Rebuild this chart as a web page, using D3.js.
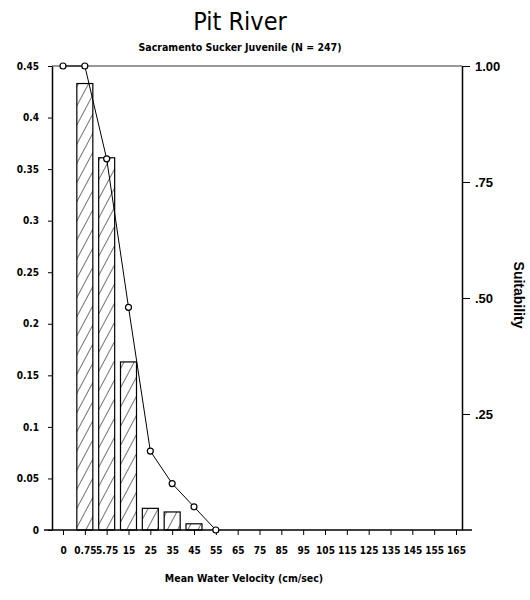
<!DOCTYPE html>
<html>
<head>
<meta charset="utf-8">
<script src="https://cdn.jsdelivr.net/npm/d3@7"></script>
<style>
  body { margin: 0; background: #fff; }
  svg { display: block; }
</style>
</head>
<body>
<svg id="chart" width="530" height="600"></svg>
<script>
// ---- data ----
const categories = ["0","0.75","5.75","15","25","35","45","55","65","75","85","95","105","115","125","135","145","155","165"];
const freqCats = ["0.75","5.75","15","25","35","45"];
const freqValues = [0.433, 0.361, 0.163, 0.021, 0.0175, 0.006];
const suitCats = ["0","0.75","5.75","15","25","35","45","55"];
const suitValues = [1.0, 1.0, 0.80, 0.48, 0.17, 0.10, 0.05, 0.0];
const leftTicks = [0, 0.05, 0.1, 0.15, 0.2, 0.25, 0.3, 0.35, 0.4, 0.45];
const leftTickLabels = ["0","0.05","0.1","0.15","0.2","0.25","0.3","0.35","0.4","0.45"];
const rightTicks = [0.25, 0.5, 0.75, 1.0];
const rightTickLabels = [".25", ".50", ".75", "1.00"];

// ---- layout ----
const plotTop = 66, plotBottom = 530, leftX = 52, rightX = 462;
const svg = d3.select("#chart");
const condensed = "'DejaVu Sans Condensed', 'Liberation Sans Narrow', sans-serif";

const x = d3.scalePoint().domain(categories).range([63, 456]);
const yL = d3.scaleLinear().domain([0, 0.45]).range([plotBottom, plotTop]);
const yR = d3.scaleLinear().domain([0, 1]).range([plotBottom, plotTop]);

// hatch pattern
const defs = svg.append("defs");
const pat = defs.append("pattern")
  .attr("id", "hatch").attr("patternUnits", "userSpaceOnUse")
  .attr("width", 9).attr("height", 9)
  .attr("patternTransform", "rotate(28)");
pat.append("rect").attr("width", 9).attr("height", 9).attr("fill", "#fff");
pat.append("line").attr("x1", 0).attr("y1", 0).attr("x2", 0).attr("y2", 9)
  .attr("stroke", "#000").attr("stroke-width", 1.1);

// titles
svg.append("text").attr("x", 240).attr("y", 30).attr("text-anchor", "middle")
  .attr("font-family", condensed).attr("font-size", 25).attr("fill", "#000")
  .text("Pit River");
svg.append("text").attr("x", 240).attr("y", 51).attr("text-anchor", "middle")
  .attr("font-family", condensed).attr("font-weight", "bold").attr("font-size", 10.5).attr("fill", "#000")
  .text("Sacramento Sucker Juvenile (N = 247)");

// bars
const bw = 16;
svg.append("g").selectAll("rect").data(freqCats.map((c, i) => ({c, v: freqValues[i]})))
  .join("rect")
  .attr("x", d => x(d.c) - bw / 2)
  .attr("y", d => yL(d.v))
  .attr("width", bw)
  .attr("height", d => yL(0) - yL(d.v))
  .attr("fill", "url(#hatch)")
  .attr("stroke", "#000").attr("stroke-width", 1.2);

// top frame line
svg.append("line").attr("x1", leftX).attr("x2", rightX).attr("y1", plotTop).attr("y2", plotTop)
  .attr("stroke", "#333").attr("stroke-width", 1.2);

// left axis
const gL = svg.append("g").attr("transform", `translate(${leftX},0)`)
  .call(d3.axisLeft(yL).tickValues(leftTicks).tickSize(4).tickSizeOuter(0)
    .tickFormat((d, i) => leftTickLabels[i]));
gL.select(".domain").attr("stroke-width", 1.5);
gL.selectAll("text").attr("font-family", condensed).attr("font-weight", "bold")
  .attr("font-size", 10).attr("dx", -6);

// right axis
const gR = svg.append("g").attr("transform", `translate(${rightX},0)`)
  .call(d3.axisRight(yR).tickValues(rightTicks).tickSize(8).tickSizeOuter(0)
    .tickFormat((d, i) => rightTickLabels[i]));
gR.select(".domain").attr("stroke-width", 1.5);
gR.selectAll("text").attr("font-family", "'Liberation Sans', Arial, sans-serif")
  .attr("font-weight", "bold").attr("font-size", 13).attr("dx", 2);

// bottom axis
svg.append("line").attr("x1", 44).attr("x2", 472).attr("y1", plotBottom).attr("y2", plotBottom)
  .attr("stroke", "#000").attr("stroke-width", 1.5);
const gB = svg.append("g").attr("transform", `translate(0,${plotBottom})`)
  .call(d3.axisBottom(x).tickSize(5).tickSizeOuter(0));
gB.select(".domain").remove();
gB.selectAll("text").attr("font-family", condensed).attr("font-weight", "bold")
  .attr("font-size", 10).attr("dy", "1.6em");

// suitability line
const pts = suitCats.map((c, i) => ({c, v: suitValues[i]}));
svg.append("path").datum(pts)
  .attr("fill", "none").attr("stroke", "#000").attr("stroke-width", 1)
  .attr("d", d3.line().x(d => x(d.c)).y(d => yR(d.v)));
svg.append("g").selectAll("circle").data(pts).join("circle")
  .attr("cx", d => x(d.c)).attr("cy", d => yR(d.v)).attr("r", 3)
  .attr("fill", "#fff").attr("stroke", "#000").attr("stroke-width", 1.2);

// axis titles
svg.append("text").attr("x", 244).attr("y", 582).attr("text-anchor", "middle")
  .attr("font-family", condensed).attr("font-weight", "bold").attr("font-size", 10.5)
  .text("Mean Water Velocity (cm/sec)");
svg.append("text").attr("transform", "translate(514,295) rotate(90)")
  .attr("text-anchor", "middle")
  .attr("font-family", "'Liberation Sans', Arial, sans-serif").attr("font-weight", "bold")
  .attr("font-size", 14).text("Suitability");
</script>
</body>
</html>
